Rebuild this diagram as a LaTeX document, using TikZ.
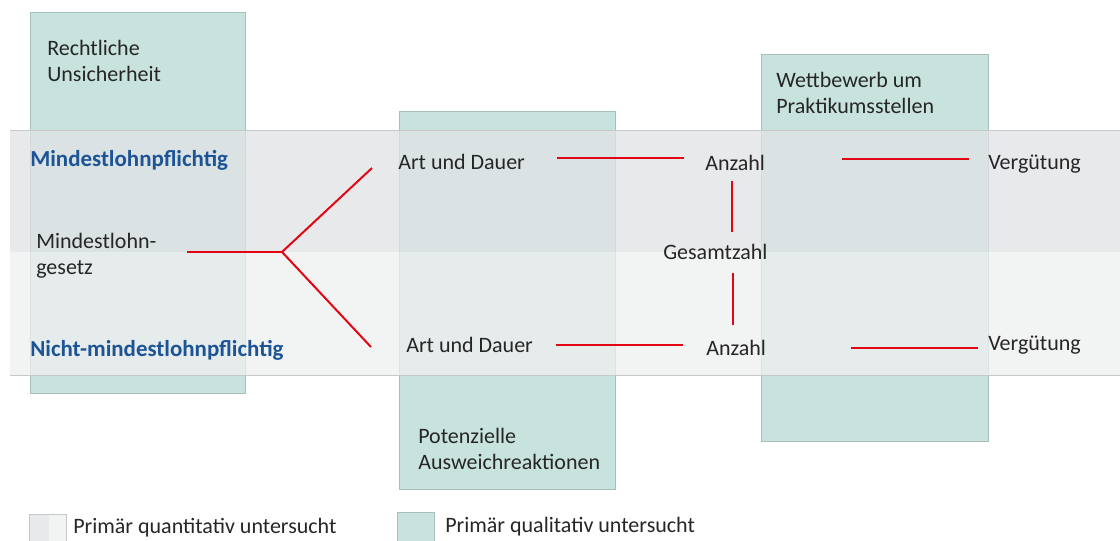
\documentclass[tikz,border=0pt]{standalone}
\usepackage{fontspec}
\setmainfont{Carlito}
\definecolor{tealbox}{RGB}{200,227,222}
\definecolor{tealedge}{RGB}{168,190,186}
\definecolor{bandtop}{RGB}{225,226,229}
\definecolor{bandbot}{RGB}{238,239,239}
\definecolor{bandline}{RGB}{200,200,200}
\definecolor{redline}{RGB}{227,6,19}
\definecolor{txt}{RGB}{38,38,38}
\definecolor{blu}{RGB}{28,84,150}
\definecolor{legA}{RGB}{232,233,235}
\definecolor{legB}{RGB}{242,243,243}
\begin{document}
\begin{tikzpicture}[x=0.75pt,y=-0.75pt,
  tbox/.style={fill=tealbox,draw=tealedge,line width=0.75pt},
  lbl/.style={inner sep=0pt,anchor=west,text=txt,font=\fontsize{16.5pt}{19.5pt}\selectfont,align=left},
  hdr/.style={inner sep=0pt,anchor=west,text=blu,font=\fontsize{17.2pt}{20pt}\selectfont\bfseries},
  rl/.style={draw=redline,line width=1.5pt}]
\useasboundingbox (0,0) rectangle (1120,540);
% qualitative boxes
\path[tbox] (30,12) rectangle (245,393);
\path[tbox] (399,111) rectangle (615,489);
\path[tbox] (761,54) rectangle (988,441);
% quantitative band
\fill[bandtop,fill opacity=0.764] (10,130) rectangle (1120,252);
\fill[bandbot,fill opacity=0.764] (10,252) rectangle (1120,375);
\draw[bandline,line width=0.75pt] (10,130) -- (1120,130);
\draw[bandline,line width=0.75pt] (10,375) -- (1120,375);
% labels
\node[lbl] (rech) at (47,61) {Rechtliche\\Unsicherheit};
\node[hdr] (mlp) at (30,160) {Mindestlohnpflichtig};
\node[lbl] (mg) at (36,256) {Mindestlohn-\\gesetz};
\node[hdr] (nmlp) at (30,350) {Nicht-mindestlohnpflichtig};
\node[lbl] (ad1) at (398,162) {Art und Dauer};
\node[lbl] (ad2) at (406,345) {Art und Dauer};
\node[lbl] (an1) at (705,163) {Anzahl};
\node[lbl] (an2) at (706,348) {Anzahl};
\node[lbl] (ges) at (663,252) {Gesamtzahl};
\node[lbl] (ve1) at (988,164) {Vergütung};
\node[lbl] (ve2) at (988,345) {Vergütung};
\node[lbl] (wett) at (776,93) {Wettbewerb um\\Praktikumsstellen};
\node[lbl] (pot) at (418,449) {Potenzielle\\Ausweichreaktionen};
% connectors
\coordinate (j) at (282,252);
\draw[rl,shorten >=22.5pt] (j) -- (j -| mg.east);
\draw[rl] (j) -- ([xshift=-19.5pt,yshift=-4.5pt]ad1.west);
\draw[rl] (j) -- ([xshift=-26.25pt,yshift=-1.5pt]ad2.west);
\draw[rl,shorten <=24pt,shorten >=15.75pt] ([yshift=3pt]ad1.east) -- ([yshift=3pt]ad1.east -| an1.west);
\draw[rl,shorten <=17.25pt,shorten >=17.25pt] (ad2.east) -- (ad2.east -| an2.west);
\draw[rl,shorten <=7.5pt,shorten >=9pt] ([xshift=-2.25pt]an1.south) -- ([xshift=-2.25pt]an1.south |- ges.north);
\draw[rl,shorten <=10pt,shorten >=11pt] ([xshift=-2.25pt]an2.north |- ges.south) -- ([xshift=-2.25pt]an2.north);
\draw[rl,shorten <=57.75pt,shorten >=14.25pt] ([yshift=3pt]an1.east) -- ([yshift=3pt]an1.east -| ve1.west);
\draw[rl,shorten <=63.75pt,shorten >=7.5pt] (an2.east) -- (an2.east -| ve2.west);
% legend
\fill[legA] (29,514) rectangle (49,545);
\fill[legB] (49,514) rectangle (66,545);
\draw[bandline,line width=0.75pt] (29,545) -- (29,514) -- (66,514) -- (66,545);
\path[tbox] (397,512) rectangle (434,545);
\node[lbl] (leg1) at (73,528) {Primär quantitativ untersucht};
\node[lbl] (leg2) at (445,527) {Primär qualitativ untersucht};
\end{tikzpicture}
\end{document}
